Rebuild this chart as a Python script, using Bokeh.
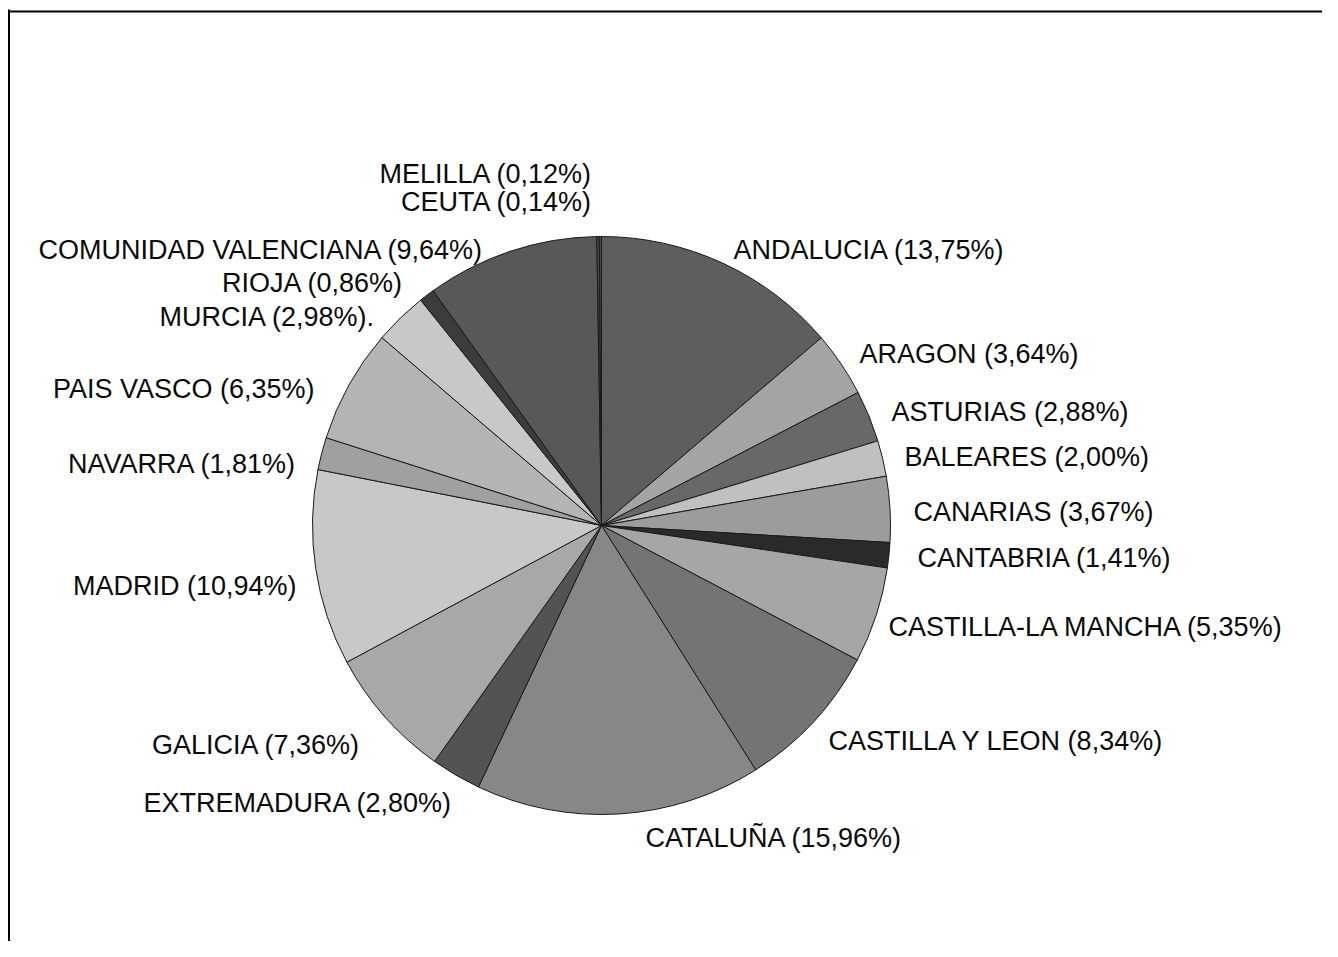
import math
from bokeh.plotting import figure
from bokeh.models import Range1d, ColumnDataSource
from bokeh.core.properties import value
from bokeh.embed import file_html
from bokeh.resources import INLINE

# ---- data ----
regions = ["ANDALUCIA", "ARAGON", "ASTURIAS", "BALEARES", "CANARIAS", "CANTABRIA",
           "CASTILLA-LA MANCHA", "CASTILLA Y LEON", "CATALUÑA", "EXTREMADURA", "GALICIA",
           "MADRID", "NAVARRA", "PAIS VASCO", "MURCIA", "RIOJA",
           "COMUNIDAD VALENCIANA", "CEUTA", "MELILLA"]
shares = [13.75, 3.64, 2.88, 2.00, 3.67, 1.41, 5.35, 8.34, 15.96, 2.80, 7.36,
          10.94, 1.81, 6.35, 2.98, 0.86, 9.64, 0.14, 0.12]
label_suffix = ["", "", "", "", "", "", "", "", "", "", "", "", "", "", ".", "", "", "", ""]

# ---- styles / layout ----
fills = ["#5e5e5e", "#a4a4a4", "#686868", "#c0c0c0", "#9c9c9c", "#2a2a2a",
         "#a6a6a6", "#747474", "#878787", "#535353", "#a8a8a8",
         "#c8c8c8", "#a0a0a0", "#b4b4b4", "#c8c8c8", "#3c3c3c",
         "#585858", "#4a4a4a", "#4a4a4a"]
# label anchor positions in page pixels (x, y-center) and alignment
label_x = [733, 859, 891, 904, 913, 917, 888, 828, 645, 452, 360,
           296, 296, 314, 375, 403, 483, 592, 592]
label_y = [249, 353, 411, 456, 511, 557, 626, 740, 837, 802, 744,
           585, 463, 388, 316, 282, 249, 201, 173]
label_align = ["left"] * 9 + ["right"] * 10

W, H = 1322, 941
PAGE_H = 957
CX, CY, R = 601, 525, 289

def ty(y_img):
    return PAGE_H - y_img

p = figure(width=W, height=H, output_backend="svg", toolbar_location=None,
           x_range=Range1d(0, W), y_range=Range1d(PAGE_H - H, PAGE_H),
           min_border=0)
p.axis.visible = False
p.grid.visible = False
p.outline_line_color = None
p.background_fill_color = "white"
p.border_fill_color = "white"

# frame (left and top edges)
p.segment(x0=[8.5, 8], y0=[ty(9), ty(11)], x1=[8.5, W], y1=[ty(PAGE_H), ty(11)],
          line_color="black", line_width=2)

# wedges
total = sum(shares)
starts, ends = [], []
acc = 0.0
for s in shares:
    a0 = math.pi / 2 - 2 * math.pi * acc / total
    acc += s
    a1 = math.pi / 2 - 2 * math.pi * acc / total
    starts.append(a0)
    ends.append(a1)

src = ColumnDataSource(dict(start=starts, end=ends, fill=fills))
p.wedge(x=CX, y=ty(CY), radius=R, start_angle="start", end_angle="end",
        direction="clock", fill_color="fill", line_color="#1a1a1a", line_width=1,
        source=src)

labels = [f"{n} ({s:.2f}%)".replace(".", ",") + suf
          for n, s, suf in zip(regions, shares, label_suffix)]
lsrc = ColumnDataSource(dict(x=label_x, y=[ty(v) for v in label_y], t=labels, a=label_align))
p.text(x="x", y="y", text="t", text_align="a", text_baseline="middle",
       text_font=value("Liberation Sans"), text_font_size="27px", text_color="#0a0a0a",
       source=lsrc)

open("out.html", "w").write(file_html(p, INLINE))
